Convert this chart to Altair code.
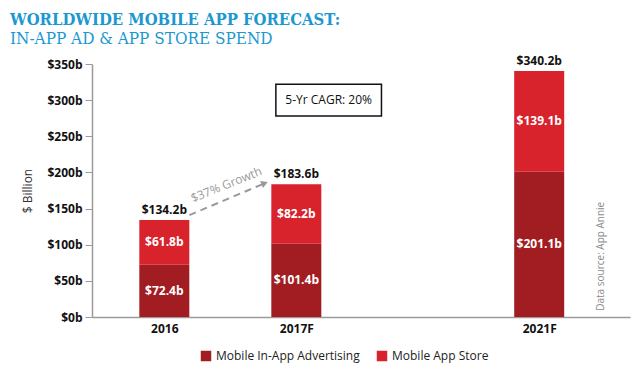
import altair as alt
import pandas as pd

years = ["2016", "2017F", "2021F"]
slots = [0, 1, 2.84]
ad_spend = [72.4, 101.4, 201.1]
store_spend = [61.8, 82.2, 139.1]
totals = [134.2, 183.6, 340.2]
series = ["Mobile In-App Advertising", "Mobile App Store"]
colors = ["#a11d22", "#d8222c"]
y_ticks = [0, 50, 100, 150, 200, 250, 300, 350]

rows = []
for yr, s, a, st in zip(years, slots, ad_spend, store_spend):
    rows.append({"year": yr, "slot": s, "series": series[0], "y0": 0, "y1": a, "val": a})
    rows.append({"year": yr, "slot": s, "series": series[1], "y0": a, "y1": a + st, "val": st})
seg = pd.DataFrame(rows)
seg["mid"] = (seg["y0"] + seg["y1"]) / 2
seg["label"] = seg["val"].map(lambda v: f"${v:.1f}b")

tot = pd.DataFrame({"year": years, "slot": slots, "total": totals})
tot["label"] = tot["total"].map(lambda v: f"${v:.1f}b")

# annotations
growth_line = pd.DataFrame({"x": [0.19, 0.76], "y": [141, 185]})
growth_head = pd.DataFrame({"x": [0.76], "y": [185]})
growth_text = pd.DataFrame({"x": [0.47], "y": [183], "t": ["$37% Growth"]})
cagr_box = pd.DataFrame({"x": [0.845], "x2": [1.645], "y": [278], "y2": [322]})
cagr_text = pd.DataFrame({"x": [1.245], "y": [300], "t": ["5-Yr CAGR: 20%"]})
source_text = pd.DataFrame({"x": [3.31], "y": [84], "t": ["Data source: App Annie"]})

label_map = "{" + ",".join(f"'{s}':'{y}'" for s, y in zip(slots, years)) + "}"

xscale = alt.Scale(domain=[-0.51, 3.49], nice=False, zero=False)
yscale = alt.Scale(domain=[0, 350], nice=False)

x_axis = alt.Axis(
    values=slots,
    labelExpr=f"{label_map}[''+datum.value]",
    title=None, grid=False, ticks=False, domainColor="#9a9a9a", domainWidth=1.5,
    labelFont="Open Sans", labelFontWeight="bold", labelFontSize=12, labelColor="#111",
    labelPadding=6,
)
y_axis = alt.Axis(
    values=y_ticks, labelExpr="'$' + datum.value + 'b'", title="$ Billion",
    labelOverlap=False, labelFlush=False, labelBound=False,
    grid=False, tickColor="#9a9a9a", tickSize=7, domainColor="#9a9a9a", domainWidth=1.5,
    labelFont="Open Sans", labelFontWeight="bold", labelFontSize=12, labelColor="#111",
    labelPadding=3, titleFont="Open Sans", titleFontWeight="normal", titleFontSize=12,
    titleColor="#333", titlePadding=12,
)


def X(field):
    return alt.X(field, scale=xscale, axis=x_axis)


def Y(field):
    return alt.Y(field, scale=yscale, axis=y_axis)


bars = alt.Chart(seg).mark_bar(size=50).encode(
    x=X("slot:Q"),
    y=Y("y0:Q"),
    y2="y1:Q",
    color=alt.Color("series:N", scale=alt.Scale(domain=series, range=colors),
                    sort=series,
                    legend=alt.Legend(title=None, orient="none", legendX=108, legendY=286,
                                      direction="horizontal", symbolType="square",
                                      symbolSize=110, symbolStrokeWidth=0, labelFont="Open Sans",
                                      labelFontSize=12, labelColor="#222", columnPadding=16)),
)

seg_labels = alt.Chart(seg).mark_text(color="white", font="Open Sans", fontWeight="bold",
                                      fontSize=12).encode(
    x=X("slot:Q"), y=Y("mid:Q"), text="label:N")

tot_labels = alt.Chart(tot).mark_text(color="#111", font="Open Sans", fontWeight="bold",
                                      fontSize=12, dy=-10).encode(
    x=X("slot:Q"), y=Y("total:Q"), text="label:N")

g_line = alt.Chart(growth_line).mark_line(color="#9a9a9a", strokeWidth=2,
                                          strokeDash=[7, 5]).encode(x=X("x:Q"), y=Y("y:Q"))
g_head = alt.Chart(growth_head).mark_point(shape="triangle-right", filled=True, color="#9a9a9a",
                                           size=60, angle=338, opacity=1).encode(x=X("x:Q"), y=Y("y:Q"))
g_text = alt.Chart(growth_text).mark_text(color="#9a9a9a", font="Open Sans", fontSize=12,
                                          angle=338).encode(x=X("x:Q"), y=Y("y:Q"), text="t:N")

box = alt.Chart(cagr_box).mark_rect(fill="white", stroke="#111", strokeWidth=1.5).encode(
    x=X("x:Q"), x2="x2:Q", y=Y("y:Q"), y2="y2:Q")
box_text = alt.Chart(cagr_text).mark_text(color="#111", font="Open Sans", fontSize=12).encode(
    x=X("x:Q"), y=Y("y:Q"), text="t:N")
src = alt.Chart(source_text).mark_text(color="#8a8a8a", font="Open Sans", fontSize=10,
                                       angle=270).encode(x=X("x:Q"), y=Y("y:Q"), text="t:N")

chart = alt.layer(bars, seg_labels, tot_labels, g_line, g_head, g_text, box, box_text, src).properties(
    width=538, height=253,
    autosize=alt.AutoSizeParams(type="none"),
    padding={"left": 84, "top": 56, "right": 2, "bottom": 46},
    title=alt.TitleParams(
        text="WORLDWIDE MOBILE APP FORECAST:",
        subtitle="IN-APP AD & APP STORE SPEND",
        anchor="start", frame="group", dx=-82, offset=8,
        font="DejaVu Serif Condensed, DejaVu Serif", fontSize=16.5, fontWeight="bold", color="#1b98d0",
        subtitleFont="DejaVu Serif Condensed, DejaVu Serif", subtitleFontSize=17,
        subtitleFontWeight="normal", subtitleColor="#1b98d0", subtitlePadding=3,
    ),
).configure_view(stroke=None)

chart.save("out.html", embed_options={"renderer": "svg", "actions": False})
